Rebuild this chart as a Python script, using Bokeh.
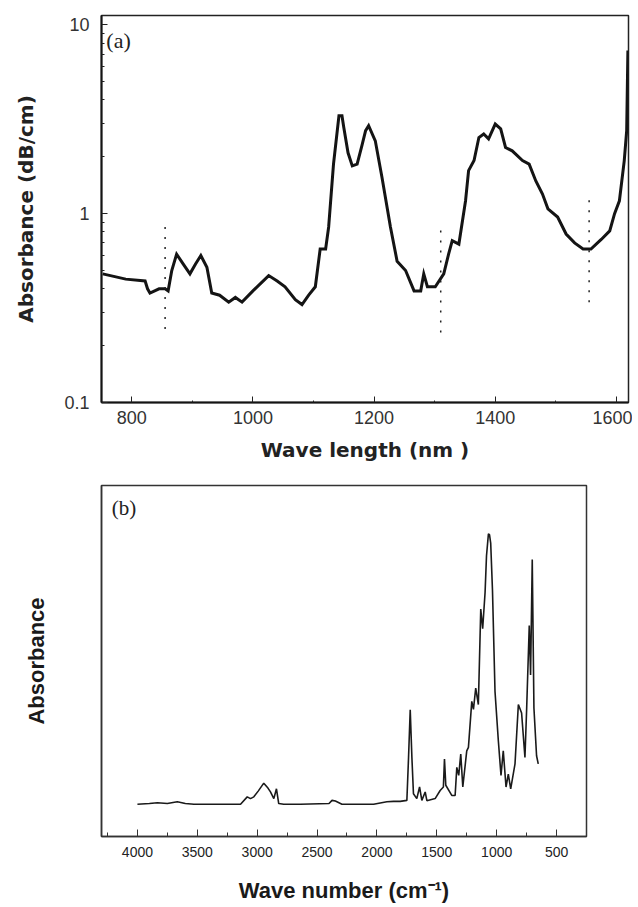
from bokeh.plotting import figure
from bokeh.layouts import column
from bokeh.models import FixedTicker, CustomJSTickFormatter, Range1d, Label
from bokeh.embed import file_html
from bokeh.resources import INLINE

# ---------------- panel (a): NIR absorbance ----------------
top_wavelength = [752, 790, 822, 826, 830, 845, 855, 860, 866, 874, 885, 896, 905, 914, 924,
                  932, 945, 960, 971, 982, 1000, 1026, 1040, 1053, 1070, 1081, 1092, 1103,
                  1111, 1120, 1125, 1133, 1142, 1147, 1150, 1157, 1164, 1172, 1180, 1186,
                  1191, 1202, 1213, 1227, 1238, 1252, 1266, 1277, 1282, 1288, 1301, 1315,
                  1323, 1329, 1340, 1351, 1356, 1365, 1373, 1381, 1389, 1400, 1409, 1417,
                  1428, 1445, 1456, 1467, 1478, 1487, 1503, 1517, 1531, 1545, 1558, 1575,
                  1589, 1597, 1605, 1613, 1617, 1619]
top_absorbance = [0.48, 0.45, 0.44, 0.40, 0.38, 0.40, 0.40, 0.39, 0.50, 0.61, 0.54, 0.48, 0.54,
                  0.60, 0.52, 0.38, 0.37, 0.34, 0.36, 0.34, 0.39, 0.47, 0.44, 0.41, 0.35, 0.33,
                  0.37, 0.41, 0.65, 0.65, 0.85, 1.83, 3.3, 3.3, 2.86, 2.1, 1.79, 1.83, 2.3,
                  2.75, 2.92, 2.43, 1.56, 0.85, 0.56, 0.50, 0.39, 0.39, 0.48, 0.41, 0.41, 0.48,
                  0.61, 0.72, 0.69, 1.17, 1.69, 1.91, 2.53, 2.64, 2.49, 2.98, 2.81, 2.24, 2.15,
                  1.91, 1.83, 1.49, 1.27, 1.06, 0.96, 0.78, 0.70, 0.65, 0.65, 0.73, 0.81, 1.0,
                  1.17, 1.91, 2.75, 7.3]

marker_wavelength = [855, 1310, 1555]
marker_low = [0.245, 0.235, 0.34]
marker_high = [0.89, 0.83, 1.23]

top_x_ticks = [800, 1000, 1200, 1400, 1600]
top_x_minor = [900, 1100, 1300, 1500]
top_y_ticks = [0.1, 1, 10]
top_y_minor = [0.2, 0.3, 0.4, 0.5, 0.6, 0.7, 0.8, 0.9, 2, 3, 4, 5, 6, 7, 8, 9]

# ---------------- panel (b): IR spectrum ----------------
bottom_wavenumber = [4000, 3900, 3833, 3750, 3667, 3600, 3528, 3139, 3083, 3056, 3028, 2990,
                     2945, 2910, 2889, 2861, 2839, 2820, 2778, 2639, 2400, 2375, 2347, 2292,
                     2028, 1917, 1861, 1806, 1750, 1736, 1722, 1708, 1695, 1667, 1644, 1625,
                     1597, 1583, 1514, 1472, 1445, 1436, 1425, 1375, 1347, 1333, 1317, 1300,
                     1283, 1250, 1236, 1208, 1194, 1175, 1153, 1133, 1117, 1097, 1085, 1069,
                     1060, 1050, 1035, 1014, 986, 964, 945, 922, 903, 883, 847, 819, 792, 764,
                     750, 728, 717, 703, 689, 667, 653]
bottom_absorbance = [0.092, 0.094, 0.096, 0.094, 0.099, 0.094, 0.092, 0.092, 0.113, 0.108,
                     0.113, 0.130, 0.152, 0.138, 0.127, 0.108, 0.136, 0.094, 0.092, 0.092,
                     0.094, 0.103, 0.101, 0.092, 0.092, 0.099, 0.100, 0.100, 0.103, 0.225,
                     0.361, 0.225, 0.122, 0.108, 0.141, 0.103, 0.127, 0.102, 0.108, 0.131,
                     0.141, 0.221, 0.146, 0.117, 0.117, 0.197, 0.174, 0.235, 0.141, 0.244,
                     0.254, 0.385, 0.362, 0.423, 0.376, 0.648, 0.592, 0.695, 0.800, 0.862,
                     0.860, 0.836, 0.700, 0.413, 0.272, 0.174, 0.244, 0.141, 0.178, 0.136,
                     0.207, 0.376, 0.352, 0.225, 0.361, 0.601, 0.460, 0.789, 0.366, 0.230,
                     0.207]

bottom_x_ticks = [4000, 3500, 3000, 2500, 2000, 1500, 1000, 500]
bottom_x_minor = [4250, 3750, 3250, 2750, 2250, 1750, 1250, 750]

# ---------------- figure (a) ----------------
p1 = figure(width=632, height=470, y_axis_type="log",
            x_range=Range1d(750, 1620), y_range=Range1d(0.1, 11.2),
            output_backend="svg", toolbar_location=None,
            min_border_left=101, min_border_right=4, min_border_top=15, min_border_bottom=68)
p1.grid.visible = False
p1.outline_line_color = "#222222"
p1.outline_line_width = 1.5

p1.line(top_wavelength, top_absorbance, line_color="#141414", line_width=3, line_join="miter")
p1.segment(x0=marker_wavelength, y0=marker_low, x1=marker_wavelength, y1=marker_high,
           line_color="#222222", line_width=1.5, line_dash="2 8")

p1.xaxis.ticker = FixedTicker(ticks=top_x_ticks, minor_ticks=top_x_minor)
p1.yaxis.ticker = FixedTicker(ticks=top_y_ticks, minor_ticks=top_y_minor)
p1.yaxis.formatter = CustomJSTickFormatter(code="return tick < 1 ? tick.toFixed(1) : tick.toFixed(0);")
for ax in (p1.xaxis[0], p1.yaxis[0]):
    ax.axis_line_color = "#141414"
    ax.axis_line_width = 2
    ax.major_tick_in = 6
    ax.major_tick_out = 0
    ax.minor_tick_in = 3
    ax.minor_tick_out = 0
    ax.major_tick_line_color = "#222222"
    ax.minor_tick_line_color = "#222222"
    ax.major_label_text_font = "Liberation Sans"
    ax.major_label_text_font_size = "18px"
    ax.major_label_text_color = "#333333"
    ax.axis_label_text_font = "DejaVu Sans"
    ax.axis_label_text_font_style = "bold"
    ax.axis_label_text_font_size = "20px"
    ax.axis_label_text_color = "#222222"
p1.xaxis.minor_tick_in = 2
p1.xaxis.major_label_standoff = 8
p1.xaxis.axis_label_standoff = 11
p1.yaxis.major_label_standoff = 12
p1.yaxis.axis_label_standoff = 23
p1.xaxis.axis_label = "Wave length (nm )"
p1.yaxis.axis_label = "Absorbance (dB/cm)"

p1.add_layout(Label(x=758, y=8.3, text="(a)", text_font="Liberation Serif",
                    text_font_size="22px", text_baseline="middle", text_color="#222222"))

# ---------------- figure (b) ----------------
p2 = figure(width=590, height=435,
            x_range=Range1d(4300, 250), y_range=Range1d(0, 1),
            output_backend="svg", toolbar_location=None,
            min_border_left=101, min_border_right=4, min_border_top=15, min_border_bottom=65)
p2.grid.visible = False
p2.outline_line_color = "#333333"
p2.outline_line_width = 1.5

p2.line(bottom_wavenumber, bottom_absorbance, line_color="#1a1a1a", line_width=1.6)

p2.xaxis.ticker = FixedTicker(ticks=bottom_x_ticks, minor_ticks=bottom_x_minor)
p2.yaxis.ticker = FixedTicker(ticks=[])
ax = p2.xaxis[0]
ax.axis_line_color = "#333333"
ax.axis_line_width = 1.5
ax.major_tick_in = 7
ax.major_tick_out = 0
ax.minor_tick_in = 4
ax.minor_tick_out = 0
ax.major_tick_line_color = "#333333"
ax.minor_tick_line_color = "#333333"
ax.major_label_text_font = "Liberation Sans"
ax.major_label_text_font_size = "14px"
ax.major_label_text_color = "#222222"
ax.major_label_standoff = 10
ax.axis_label_standoff = 18
ax.axis_label = "Wave number (cm\u207b\u00b9)"
ay = p2.yaxis[0]
ay.axis_line_color = "#333333"
ay.axis_line_width = 1.5
ay.axis_label = "Absorbance"
ay.axis_label_standoff = 53
for a in (ax, ay):
    a.axis_label_text_font = "Liberation Sans"
    a.axis_label_text_font_style = "bold"
    a.axis_label_text_font_size = "22px"
    a.axis_label_text_color = "#1a1a1a"

p2.add_layout(Label(x=4215, y=0.935, text="(b)", text_font="Liberation Serif",
                    text_font_size="21px", text_baseline="middle", text_color="#222222"))

layout = column(p1, p2, spacing=0)
open("out.html", "w").write(file_html(layout, INLINE))
